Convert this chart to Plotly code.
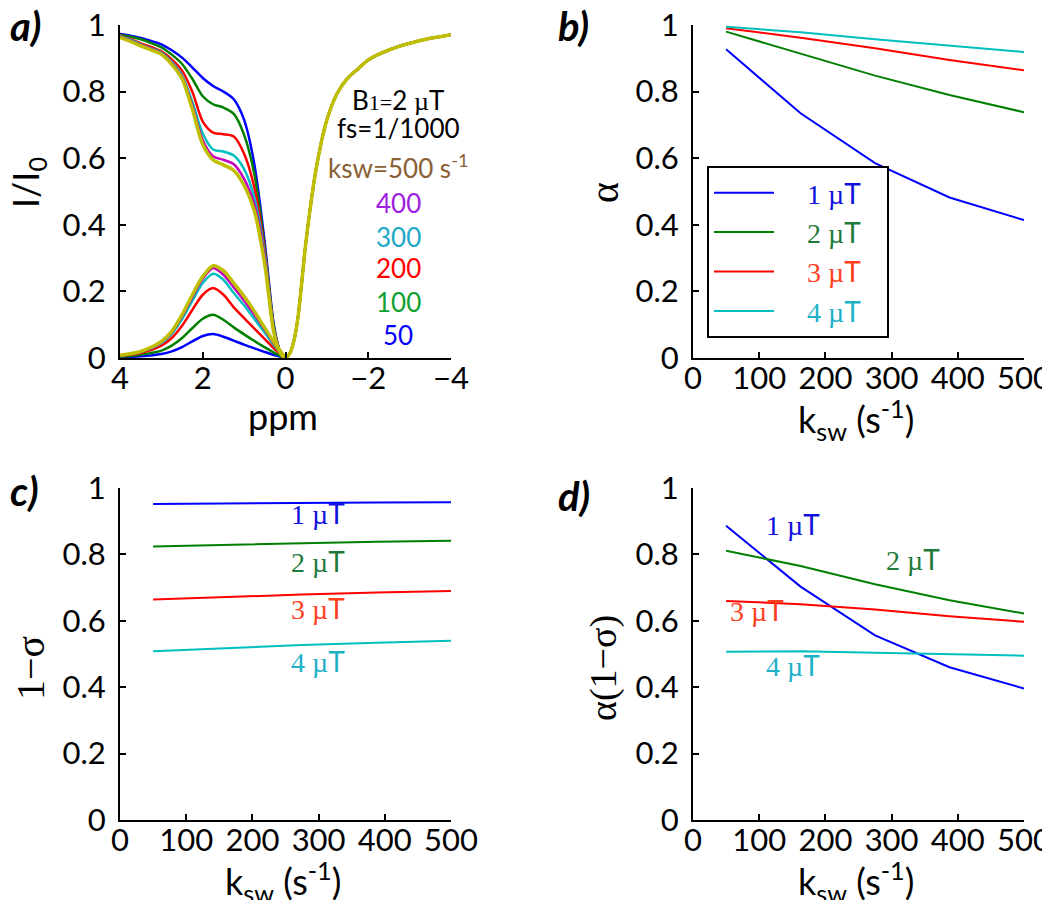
import plotly.graph_objects as go

# ---------------- Panel a data ----------------
ksw_labels = ["50", "100", "200", "300", "400", "500"]
ppm_pos = [4, 3.75, 3.5, 3.25, 3, 2.75, 2.5, 2.25, 2, 1.75, 1.5, 1.25, 1, 0.75, 0.5, 0.3, 0.2, 0.1, 0]
z_50 = [0.973, 0.968, 0.961, 0.952, 0.942, 0.924, 0.902, 0.872, 0.841, 0.817, 0.800, 0.777, 0.715, 0.58, 0.345, 0.115, 0.048, 0.012, 0]
z_100 = [0.971, 0.965, 0.957, 0.946, 0.933, 0.911, 0.883, 0.838, 0.786, 0.762, 0.752, 0.733, 0.67, 0.55, 0.33, 0.11, 0.046, 0.012, 0]
z_200 = [0.969, 0.958, 0.945, 0.934, 0.921, 0.897, 0.863, 0.799, 0.71, 0.677, 0.672, 0.665, 0.613, 0.51, 0.32, 0.10, 0.043, 0.011, 0]
z_300 = [0.967, 0.956, 0.942, 0.930, 0.917, 0.889, 0.849, 0.768, 0.674, 0.626, 0.62, 0.608, 0.567, 0.48, 0.31, 0.095, 0.04, 0.01, 0]
z_400 = [0.965, 0.953, 0.94, 0.928, 0.915, 0.886, 0.844, 0.757, 0.654, 0.606, 0.595, 0.582, 0.538, 0.46, 0.30, 0.09, 0.039, 0.01, 0]
z_500 = [0.963, 0.951, 0.937, 0.925, 0.912, 0.882, 0.839, 0.747, 0.641, 0.595, 0.58, 0.563, 0.518, 0.44, 0.28, 0.088, 0.038, 0.01, 0]

ppm_neg = [-0.1, -0.2, -0.3, -0.5, -0.75, -1, -1.25, -1.5, -1.75, -2, -2.5, -3, -3.5, -4]
water_neg = [0.013, 0.05, 0.12, 0.355, 0.575, 0.715, 0.795, 0.84, 0.868, 0.895, 0.925, 0.945, 0.96, 0.971]

ppm_asym = [4, 3.5, 3, 2.75, 2.5, 2.25, 2, 1.75, 1.5, 1.25, 1, 0.75, 0.5, 0.25, 0]
asym_50 = [0.002, 0.005, 0.012, 0.02, 0.033, 0.05, 0.066, 0.072, 0.064, 0.052, 0.04, 0.029, 0.018, 0.008, 0]
asym_100 = [0.004, 0.01, 0.022, 0.037, 0.06, 0.09, 0.118, 0.13, 0.115, 0.092, 0.071, 0.051, 0.032, 0.014, 0]
asym_200 = [0.006, 0.015, 0.037, 0.06, 0.097, 0.145, 0.19, 0.21, 0.19, 0.152, 0.12, 0.088, 0.057, 0.025, 0]
asym_300 = [0.007, 0.018, 0.045, 0.072, 0.117, 0.172, 0.225, 0.253, 0.235, 0.195, 0.158, 0.117, 0.076, 0.034, 0]
asym_400 = [0.008, 0.019, 0.048, 0.077, 0.125, 0.183, 0.238, 0.27, 0.25, 0.212, 0.172, 0.13, 0.085, 0.038, 0]
asym_500 = [0.008, 0.02, 0.05, 0.08, 0.13, 0.19, 0.245, 0.277, 0.262, 0.225, 0.185, 0.14, 0.09, 0.042, 0]

# ---------------- Panels b, c, d data ----------------
ksw = [50, 162.5, 275, 387.5, 500]
b1_labels = ["1 µT", "2 µT", "3 µT", "4 µT"]
alpha_1 = [0.927, 0.735, 0.585, 0.482, 0.414]
alpha_2 = [0.98, 0.915, 0.848, 0.79, 0.738]
alpha_3 = [0.99, 0.962, 0.93, 0.895, 0.864]
alpha_4 = [0.995, 0.978, 0.957, 0.937, 0.919]

sigma_1 = [0.952, 0.954, 0.955, 0.956, 0.957]
sigma_2 = [0.824, 0.829, 0.834, 0.838, 0.841]
sigma_3 = [0.664, 0.672, 0.679, 0.685, 0.690]
sigma_4 = [0.508, 0.518, 0.527, 0.534, 0.540]

prod_1 = [0.886, 0.703, 0.556, 0.46, 0.396]
prod_2 = [0.811, 0.765, 0.71, 0.662, 0.622]
prod_3 = [0.66, 0.65, 0.634, 0.614, 0.597]
prod_4 = [0.507, 0.508, 0.504, 0.5, 0.495]

# label positions for c and d (data coords)
c_label_x = [299, 299, 299, 299]
c_label_y = [0.924, 0.78, 0.638, 0.479]
d_label_x = [151, 332, 97, 151]
d_label_y = [0.891, 0.785, 0.634, 0.468]

# ---------------- Styles ----------------
a_colors = ["#0000FF", "#008000", "#FF0000", "#00BFBF", "#BF00BF", "#BFBF00"]
a_text_colors = ["#0000FF", "#10A030", "#FF0000", "#20A8C8", "#A020E0", "#8B6035"]
b_colors = ["#0000FF", "#007F00", "#FF0000", "#00BFBF"]
b_text_colors = ["#1010E0", "#1F7A3A", "#FF4020", "#20B0C8"]

SANS = "Lato"
SERIF = "Liberation Serif"
NB = "\u00a0"

fig = go.Figure()

z_all = [z_50, z_100, z_200, z_300, z_400, z_500]
asym_all = [asym_50, asym_100, asym_200, asym_300, asym_400, asym_500]
for i in range(6):
    w = 3.5 if i == 5 else 2.5
    fig.add_trace(go.Scatter(x=ppm_pos + ppm_neg, y=z_all[i] + water_neg, mode="lines",
                             line=dict(color=a_colors[i], width=w, shape="spline", smoothing=0.8),
                             xaxis="x", yaxis="y", showlegend=False, hoverinfo="skip"))
    fig.add_trace(go.Scatter(x=ppm_asym, y=asym_all[i], mode="lines",
                             line=dict(color=a_colors[i], width=w, shape="spline", smoothing=0.8),
                             xaxis="x", yaxis="y", showlegend=False, hoverinfo="skip"))

alpha_all = [alpha_1, alpha_2, alpha_3, alpha_4]
sigma_all = [sigma_1, sigma_2, sigma_3, sigma_4]
prod_all = [prod_1, prod_2, prod_3, prod_4]
for i in range(4):
    lbl = b1_labels[i]
    name = (NB * 4 + f'<span style="color:{b_text_colors[i]}"><span style="font-family:{SERIF}">{lbl[:-1]}</span>'
            f'<span style="font-family:{SANS}">T</span></span>' + NB * 3)
    fig.add_trace(go.Scatter(x=ksw, y=alpha_all[i], mode="lines", name=name,
                             line=dict(color=b_colors[i], width=2),
                             xaxis="x2", yaxis="y2", showlegend=True))
    fig.add_trace(go.Scatter(x=ksw, y=sigma_all[i], mode="lines",
                             line=dict(color=b_colors[i], width=2),
                             xaxis="x3", yaxis="y3", showlegend=False))
    fig.add_trace(go.Scatter(x=ksw, y=prod_all[i], mode="lines",
                             line=dict(color=b_colors[i], width=2),
                             xaxis="x4", yaxis="y4", showlegend=False))

W, H = 1050, 900
def dx(p0, p1):
    return [p0 / W, p1 / W]
def dy(p_top, p_bot):
    return [1 - p_bot / H, 1 - p_top / H]

axis_common = dict(showline=True, linecolor="black", linewidth=2, ticks="inside", ticklen=6,
                   tickwidth=2, tickcolor="black", showgrid=False, zeroline=False, mirror=False,
                   tickfont=dict(family=SANS, size=31, color="black"), ticklabeloverflow="allow")
yticks = dict(tickvals=[0, 0.2, 0.4, 0.6, 0.8, 1], ticktext=["0", "0.2", "0.4", "0.6", "0.8", "1"],
              range=[0, 1], ticklabelstandoff=6)
kticks = dict(tickvals=[0, 100, 200, 300, 400, 500], ticktext=["0", "100", "200", "300", "400", "500"],
              range=[0, 500], ticklabelstandoff=-8)

fig.update_layout(
    width=W, height=H, margin=dict(l=0, r=0, t=0, b=0), template="none",
    paper_bgcolor="white", plot_bgcolor="white",
    xaxis=dict(domain=dx(112, 443), range=[4, -4], tickvals=[4, 2, 0, -2, -4],
               ticktext=["4", "2", "0", "\u22122", "\u22124"], anchor="y", ticklabelstandoff=-8, **axis_common),
    yaxis=dict(domain=dy(17, 350), anchor="x", **yticks, **axis_common),
    xaxis2=dict(domain=dx(685, 1016), anchor="y2", **kticks, **axis_common),
    yaxis2=dict(domain=dy(17, 350), anchor="x2", **yticks, **axis_common),
    xaxis3=dict(domain=dx(112, 443), anchor="y3", **kticks, **axis_common),
    yaxis3=dict(domain=dy(480, 812), anchor="x3", **yticks, **axis_common),
    xaxis4=dict(domain=dx(685, 1016), anchor="y4", **kticks, **axis_common),
    yaxis4=dict(domain=dy(480, 812), anchor="x4", **yticks, **axis_common),
    legend=dict(x=699 / W, y=1 - 158 / H, xanchor="left", yanchor="top", bordercolor="black",
                borderwidth=2, bgcolor="white", font=dict(family=SERIF, size=28, color="black"),
                itemwidth=60, tracegroupgap=0),
)

annotations = []
# panel labels
for txt, px, py in [("a)", 0, 18), ("b)", 548, 18), ("c)", 0, 483), ("d)", 548, 488)]:
    annotations.append(dict(text=f"<b><i>{txt}</i></b>", x=px / W, y=1 - py / H, xref="paper", yref="paper",
                            xanchor="left", yanchor="middle", showarrow=False,
                            font=dict(family=SANS, size=40, color="black")))

# axis titles
ksw_title = "k<sub>sw</sub> (s<sup>-1</sup>)"
for txt, px, py, fam, size, ang in [
        ("ppm", 275, 408, SANS, 36, 0),
        (ksw_title, 848, 411, SANS, 36, 0),
        (ksw_title, 275, 873, SANS, 36, 0),
        (ksw_title, 848, 873, SANS, 36, 0),
        ("I/I<sub>0</sub>", 20, 175, SANS, 36, -90),
        ("α", 597, 185, SERIF, 40, -90),
        ("1\u2212σ", 22, 660, SERIF, 40, -90),
        ("α(1\u2212σ)", 595, 660, SERIF, 38, -90)]:
    annotations.append(dict(text=txt, x=px / W, y=1 - py / H, xref="paper", yref="paper",
                            xanchor="center", yanchor="middle", showarrow=False, textangle=ang,
                            font=dict(family=fam, size=size, color="black")))

# panel a text
a_text_x = -2.72
annotations.append(dict(text='B<span style="font-family:Liberation Serif;font-size:22px">1=</span>2 <span style="font-family:Liberation Serif">µ</span>T',
                        x=a_text_x, y=0.775, xref="x", yref="y", showarrow=False,
                        font=dict(family=SANS, size=26, color="black")))
annotations.append(dict(text="fs=1/1000", x=a_text_x, y=0.692, xref="x", yref="y", showarrow=False,
                        font=dict(family=SANS, size=26, color="black")))
annotations.append(dict(text="ksw=500 s<sup>-1</sup>", x=a_text_x, y=0.575, xref="x", yref="y", showarrow=False,
                        font=dict(family=SANS, size=26, color=a_text_colors[5])))
a_lab_y = [0.07, 0.169, 0.271, 0.364, 0.466]
for i in range(5):
    annotations.append(dict(text=ksw_labels[i], x=a_text_x, y=a_lab_y[i], xref="x", yref="y", showarrow=False,
                            font=dict(family=SANS, size=26, color=a_text_colors[i])))

for i in range(4):
    lab = f'<span style="font-family:{SERIF}">{b1_labels[i][:-1]}</span>T'
    annotations.append(dict(text=lab, x=c_label_x[i], y=c_label_y[i], xref="x3", yref="y3", showarrow=False,
                            font=dict(family=SANS, size=28, color=b_text_colors[i])))
    annotations.append(dict(text=lab, x=d_label_x[i], y=d_label_y[i], xref="x4", yref="y4", showarrow=False,
                            font=dict(family=SANS, size=28, color=b_text_colors[i])))

fig.update_layout(annotations=annotations)
fig.write_html("out.html")
